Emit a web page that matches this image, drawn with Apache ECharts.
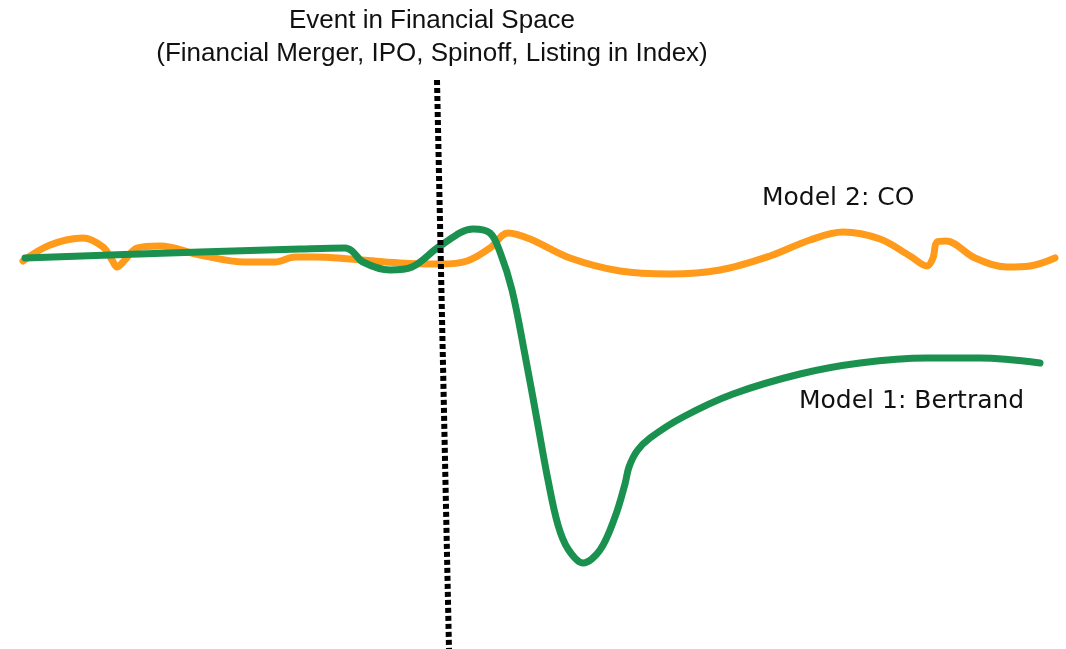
<!DOCTYPE html>
<html style="height: 100%">
<head>
<meta charset="utf-8">
</head>
<body style="height: 100%; margin: 0; background: #fff">
<div id="container" style="height: 100%"></div>
<script src="https://cdn.jsdelivr.net/npm/echarts@6/dist/echarts.min.js"></script>
<script>
// coordinates (x across, y down)
var coPoints = [
  [23, 261], [50, 245], [83, 238], [103, 247], [112, 260], [117, 267], [124, 261],
  [137, 248], [160, 246], [200, 255], [245, 262], [275, 262], [295, 257], [315, 257],
  [350, 259], [400, 263], [440, 264], [467, 261], [490, 248], [508, 233], [530, 239],
  [570, 258], [620, 271], [670, 274], [720, 270], [770, 256], [810, 240], [843, 232],
  [880, 239], [910, 256], [927, 266], [933, 258], [937, 242], [946, 241], [975, 258],
  [1007, 267], [1030, 266], [1055, 258]
];
var bertrandPoints = [
  [25, 258], [200, 252], [300, 249], [345, 248], [352, 251], [363, 262], [390, 270],
  [412, 267], [440, 246], [473, 229], [490, 233], [500, 252], [512, 290],
  [525, 355], [537, 420], [548, 480], [558, 525], [568, 549], [583, 563], [600, 550],
  [615, 517], [625, 484], [629, 467], [637, 451], [650, 438], [683, 417], [733, 394],
  [800, 374], [860, 363], [927, 358], [980, 358], [1040, 363]
];
var eventLine = [[437, 80], [449, 649]];
var titleLines = ['Event in Financial Space', '(Financial Merger, IPO, Spinoff, Listing in Index)'];
var seriesLabels = ['Model 2: CO', 'Model 1: Bertrand'];

var myChart = echarts.init(document.getElementById('container'));
var option = {
  animation: false,
  grid: { left: 0, right: 0, top: 0, bottom: 0 },
  xAxis: { type: 'value', min: 0, max: 1066, show: false },
  yAxis: { type: 'value', min: 0, max: 649, inverse: true, show: false },
  graphic: [
    {
      type: 'text', x: 432, y: 4, z: 100,
      style: {
        text: titleLines.join('\n'), fill: '#111', align: 'center',
        font: '26px "Liberation Sans", Arial, sans-serif', lineHeight: 33
      }
    },
    {
      type: 'text', x: 762, y: 186, z: 100,
      style: { text: seriesLabels[0], fill: '#111', font: '25px "DejaVu Sans", sans-serif' }
    },
    {
      type: 'text', x: 799, y: 389, z: 100,
      style: { text: seriesLabels[1], fill: '#111', font: '25px "DejaVu Sans", sans-serif' }
    }
  ],
  series: [
    {
      type: 'line', data: coPoints, smooth: 0.35, symbol: 'none',
      lineStyle: { color: '#FF9A1A', width: 7, cap: 'round', join: 'round' }
    },
    {
      type: 'line', data: bertrandPoints, smooth: 0.35, symbol: 'none',
      lineStyle: { color: '#1B9150', width: 7, cap: 'round', join: 'round' }
    },
    {
      type: 'line', data: eventLine, symbol: 'none', z: 3,
      lineStyle: { color: '#000', width: 6, type: [5, 3] }
    }
  ]
};
myChart.setOption(option);
</script>
</body>
</html>
